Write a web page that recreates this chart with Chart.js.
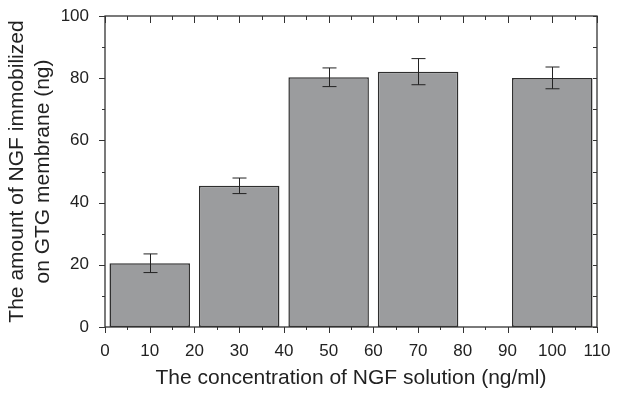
<!DOCTYPE html>
<html>
<head>
<meta charset="utf-8">
<script src="https://cdn.jsdelivr.net/npm/chart.js@4"></script>
<style>
    html, body { margin: 0; padding: 0; background: #fff; }
    #wrap { width: 635px; height: 394px; }
</style>
</head>
<body>
<div id="wrap"><canvas id="chart" width="635" height="394"></canvas></div>
<script>
// NGF concentration (ng/ml) and amount immobilized (ng), with error bar half-heights
const concentrations = [10, 30, 50, 70, 100];
const amounts = [20.5, 45.4, 80.3, 82.1, 80.1];
const errors = [3.0, 2.5, 3.0, 4.2, 3.5];

const xTicks = [0, 10, 20, 30, 40, 50, 60, 70, 80, 90, 100, 110];
const yTicks = [0, 20, 40, 60, 80, 100];

const FONT = "'Liberation Sans', Arial, sans-serif";
const INK = '#222';

// frame on all four sides, ticks outside on bottom/left, inside on top/right
const frameTicks = {
    id: 'frameTicks',
    afterDatasetsDraw(chart) {
        const { ctx, chartArea: a, scales: { x, y } } = chart;
        ctx.save();
        ctx.strokeStyle = '#333';
        ctx.lineWidth = 1.3;
        ctx.strokeRect(a.left, a.top, a.right - a.left, a.bottom - a.top);
        ctx.lineWidth = 1;
        ctx.beginPath();
        for (let v = xTicks[0]; v <= xTicks[xTicks.length - 1]; v += 5) {
            const px = Math.round(x.getPixelForValue(v)) + 0.5;
            const len = v % 10 === 0 ? 6 : 3;
            ctx.moveTo(px, a.bottom); ctx.lineTo(px, a.bottom + len);
            ctx.moveTo(px, a.top); ctx.lineTo(px, a.top + len + 1);
        }
        for (let v = yTicks[0]; v <= yTicks[yTicks.length - 1]; v += 10) {
            const py = Math.round(y.getPixelForValue(v)) + 0.5;
            const len = v % 20 === 0 ? 6 : 3;
            ctx.moveTo(a.left, py); ctx.lineTo(a.left - len, py);
            ctx.moveTo(a.right, py); ctx.lineTo(a.right - 4, py);
        }
        ctx.stroke();
        ctx.restore();
    }
};

const errorBars = {
    id: 'errorBars',
    afterDatasetsDraw(chart) {
        const { ctx, scales: { x, y } } = chart;
        ctx.save();
        ctx.strokeStyle = INK;
        ctx.lineWidth = 1;
        ctx.beginPath();
        concentrations.forEach((c, i) => {
            const px = Math.round(x.getPixelForValue(c)) + 0.5;
            const hi = y.getPixelForValue(amounts[i] + errors[i]);
            const lo = y.getPixelForValue(amounts[i] - errors[i]);
            ctx.moveTo(px, hi); ctx.lineTo(px, lo);
            ctx.moveTo(px - 7, hi); ctx.lineTo(px + 7, hi);
            ctx.moveTo(px - 7, lo); ctx.lineTo(px + 7, lo);
        });
        ctx.stroke();
        ctx.restore();
    }
};

new Chart(document.getElementById('chart'), {
    type: 'bar',
    data: {
        datasets: [{
            data: concentrations.map((c, i) => ({ x: c, y: amounts[i] })),
            backgroundColor: '#9b9c9e',
            borderColor: '#2e2e2e',
            borderWidth: 1.5,
            borderSkipped: false,
            // tick spacing (10) is the narrowest interval, bars are 18 units wide
            categoryPercentage: 1,
            barPercentage: 1.8
        }]
    },
    options: {
        responsive: false,
        animation: false,
        layout: { padding: { top: 16, right: 38, left: 0, bottom: 0 } },
        plugins: {
            legend: { display: false },
            tooltip: { enabled: false }
        },
        scales: {
            x: {
                type: 'linear',
                offset: false,
                min: 0,
                max: 110,
                afterFit(scale) { scale.height = 67; },
                afterBuildTicks(scale) { scale.ticks = xTicks.map(v => ({ value: v })); },
                grid: { display: false, drawTicks: false, offset: false },
                border: { display: false },
                ticks: { color: INK, font: { family: FONT, size: 17 }, padding: 14, maxRotation: 0 },
                title: {
                    display: true,
                    text: 'The concentration of NGF solution (ng/ml)',
                    color: INK,
                    font: { family: FONT, size: 21 },
                    padding: { top: 0, bottom: 3 }
                }
            },
            y: {
                min: 0,
                max: 100,
                afterFit(scale) {
                    scale.width = 105;
                    scale.paddingTop = 0;
                    scale.paddingBottom = 0;
                },
                afterBuildTicks(scale) { scale.ticks = yTicks.map(v => ({ value: v })); },
                grid: { display: false, drawTicks: false },
                border: { display: false },
                ticks: { color: INK, font: { family: FONT, size: 17 }, padding: 16 },
                title: {
                    display: true,
                    text: ['The amount of NGF immobilized', 'on GTG membrane (ng)'],
                    color: INK,
                    font: { family: FONT, size: 21, lineHeight: 1.25 },
                    padding: { top: 4, bottom: 0 }
                }
            }
        }
    },
    plugins: [frameTicks, errorBars]
});
</script>
</body>
</html>
